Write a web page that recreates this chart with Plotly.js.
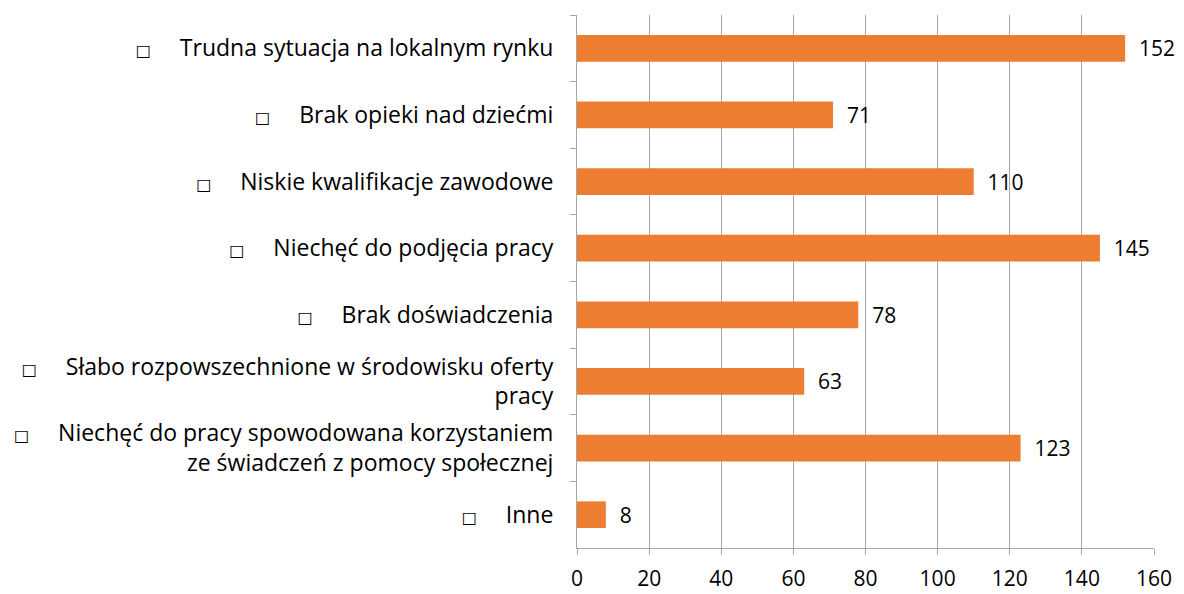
<!DOCTYPE html>
<html>
<head>
<meta charset="utf-8">
<script src="https://cdn.plot.ly/plotly-3.0.1.min.js"></script>
<style>html,body{margin:0;padding:0;background:#fff;}#chart{width:1184px;height:594px;}</style>
</head>
<body>
<div id="chart"></div>
<script>
const categories = [
  "Trudna sytuacja na lokalnym rynku",
  "Brak opieki nad dziećmi",
  "Niskie kwalifikacje zawodowe",
  "Niechęć do podjęcia pracy",
  "Brak doświadczenia",
  "Słabo rozpowszechnione w środowisku oferty<br>pracy",
  "Niechęć do pracy spowodowana korzystaniem<br>ze świadczeń z pomocy społecznej",
  "Inne"
];
const values = [152, 71, 110, 145, 78, 63, 123, 8];
const xTicks = [0, 20, 40, 60, 80, 100, 120, 140, 160];

const prefix = "<span style='font-family:DejaVu Sans;font-size:16px;color:#000'>□</span>\u2003\u00a0";
const labels = categories.map(c => prefix + c);

const FONT = "'Open Sans', 'Liberation Sans', sans-serif";

Plotly.newPlot("chart", [{
  type: "bar",
  orientation: "h",
  y: labels,
  x: values,
  marker: {color: "#ED7D31"},
  text: values.map(v => "\u00a0\u00a0" + v),
  textposition: "outside",
  constraintext: "none",
  cliponaxis: false,
  textfont: {family: FONT, size: 21, color: "#000"},
  hoverinfo: "none"
}], {
  width: 1184, height: 594,
  margin: {l: 577, r: 30, t: 15, b: 46},
  paper_bgcolor: "#fff", plot_bgcolor: "#fff",
  bargap: 0.6,
  showlegend: false,
  font: {family: FONT, size: 21, color: "#000"},
  xaxis: {
    range: [0, 160],
    tickvals: xTicks,
    ticktext: xTicks.map(String),
    showgrid: true, gridcolor: "#a6a6a6", gridwidth: 1,
    zeroline: false,
    showline: true, linecolor: "#a6a6a6",
    ticks: "outside", ticklen: 6, tickcolor: "#a6a6a6",
    ticklabelstandoff: 6,
    tickfont: {family: FONT, size: 21, color: "#000"}
  },
  yaxis: {
    autorange: "reversed",
    type: "category",
    showline: true, linecolor: "#a6a6a6",
    ticks: "outside", ticklen: 6, tickcolor: "#a6a6a6",
    tickson: "boundaries",
    showgrid: false,
    ticklabelstandoff: 18,
    tickfont: {family: FONT, size: 23, color: "#000"}
  }
}, {staticPlot: true});
</script>
</body>
</html>
